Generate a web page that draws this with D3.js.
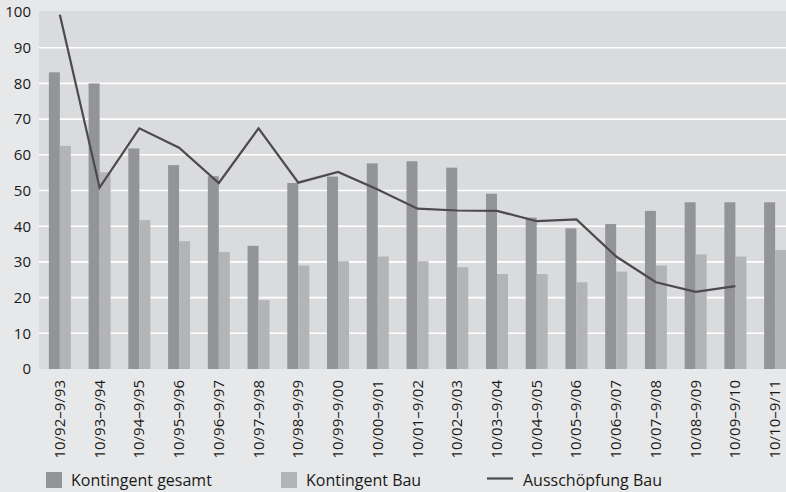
<!DOCTYPE html>
<html><head><meta charset="utf-8">
<script src="https://cdn.jsdelivr.net/npm/d3@7/dist/d3.min.js"></script>
<style>
html,body{margin:0;padding:0;background:#e7e8e9;}
svg{display:block;font-family:"Open Sans",sans-serif;}
</style></head>
<body><svg id="c" width="786" height="492"></svg>
<script>
const categories = ["10/92–9/93","10/93–9/94","10/94–9/95","10/95–9/96","10/96–9/97","10/97–9/98","10/98–9/99","10/99–9/00","10/00–9/01","10/01–9/02","10/02–9/03","10/03–9/04","10/04–9/05","10/05–9/06","10/06–9/07","10/07–9/08","10/08–9/09","10/09–9/10","10/10–9/11"];
const kontingentGesamt = [83.1,80.0,61.8,57.1,54.0,34.5,52.1,53.9,57.6,58.2,56.4,49.1,42.4,39.4,40.6,44.3,46.7,46.7,46.7];
const kontingentBau = [62.5,55.1,41.7,35.8,32.8,19.3,29.0,30.2,31.5,30.2,28.5,26.6,26.6,24.3,27.3,29.0,32.1,31.5,33.3];
const ausschoepfungBau = [99.2,50.8,67.4,62.0,52.1,67.4,52.2,55.2,50.3,44.9,44.4,44.3,41.4,41.9,31.5,24.3,21.6,23.2,null];
const yTicks = [0,10,20,30,40,50,60,70,80,90,100];
const legendLabels = ["Kontingent gesamt","Kontingent Bau","Ausschöpfung Bau"];

const svg = d3.select("#c");
const W = 786, H = 492;
svg.append("rect").attr("width",W).attr("height",H).attr("fill","#e7e8e9");

const x = d3.scaleBand().domain(categories).range([39, 794]);
const y = d3.scaleLinear().domain([0,100]).range([369, 12]);
const barW = 11;

// plot background
svg.append("rect").attr("x",39).attr("y",y(100)-1).attr("width",W-39).attr("height",y(0)-y(100)+1).attr("fill","#dadbdd");

// gridlines
svg.append("g").selectAll("line").data(yTicks.filter(d=>d>0&&d<100)).join("line")
  .attr("x1",39).attr("x2",W).attr("y1",d=>y(d)).attr("y2",d=>y(d))
  .attr("stroke","#ffffff").attr("stroke-width",1.6);

// y axis labels
const yAxis = d3.axisLeft(y).tickValues(yTicks).tickSize(0).tickPadding(8);
const ga = svg.append("g").attr("transform","translate(39,0)").call(yAxis);
ga.select(".domain").remove();
ga.selectAll("text").attr("font-size",15).attr("fill","#1a1a1a").attr("font-family","'Open Sans',sans-serif");

const cx = c => x(c) + x.bandwidth()/2 + 1;

// bars
svg.append("g").selectAll("rect").data(categories).join("rect")
  .attr("x",(c)=>cx(c)-barW).attr("width",barW)
  .attr("y",(c,i)=>y(kontingentGesamt[i])).attr("height",(c,i)=>y(0)-y(kontingentGesamt[i]))
  .attr("fill","#939497");
svg.append("g").selectAll("rect").data(categories).join("rect")
  .attr("x",(c)=>cx(c)).attr("width",barW)
  .attr("y",(c,i)=>y(kontingentBau[i])).attr("height",(c,i)=>y(0)-y(kontingentBau[i]))
  .attr("fill","#b3b4b6");

// line
const line = d3.line().defined(d=>d.v!=null).x(d=>cx(d.c)).y(d=>y(d.v));
svg.append("path").datum(categories.map((c,i)=>({c,v:ausschoepfungBau[i]})))
  .attr("d",line).attr("fill","none").attr("stroke","#4b4b4d").attr("stroke-width",2.2).attr("stroke-linejoin","miter");

// x labels
svg.append("g").selectAll("text").data(categories).join("text")
  .attr("transform",c=>`translate(${cx(c)+5},380) rotate(-90)`)
  .attr("text-anchor","end").attr("font-size",15).attr("fill","#1a1a1a")
  .text(c=>c);

// legend
const lg = svg.append("g");
lg.append("rect").attr("x",46).attr("y",472).attr("width",16).attr("height",16).attr("fill","#939497");
lg.append("text").attr("x",71).attr("y",486).attr("font-size",16).attr("fill","#1a1a1a").text(legendLabels[0]);
lg.append("rect").attr("x",281).attr("y",472).attr("width",16).attr("height",16).attr("fill","#b3b4b6");
lg.append("text").attr("x",306).attr("y",486).attr("font-size",16).attr("fill","#1a1a1a").text(legendLabels[1]);
lg.append("line").attr("x1",487).attr("x2",513).attr("y1",478.5).attr("y2",478.5).attr("stroke","#4b4b4d").attr("stroke-width",2.2);
lg.append("text").attr("x",523).attr("y",486).attr("font-size",16).attr("fill","#1a1a1a").text(legendLabels[2]);
</script></body></html>
